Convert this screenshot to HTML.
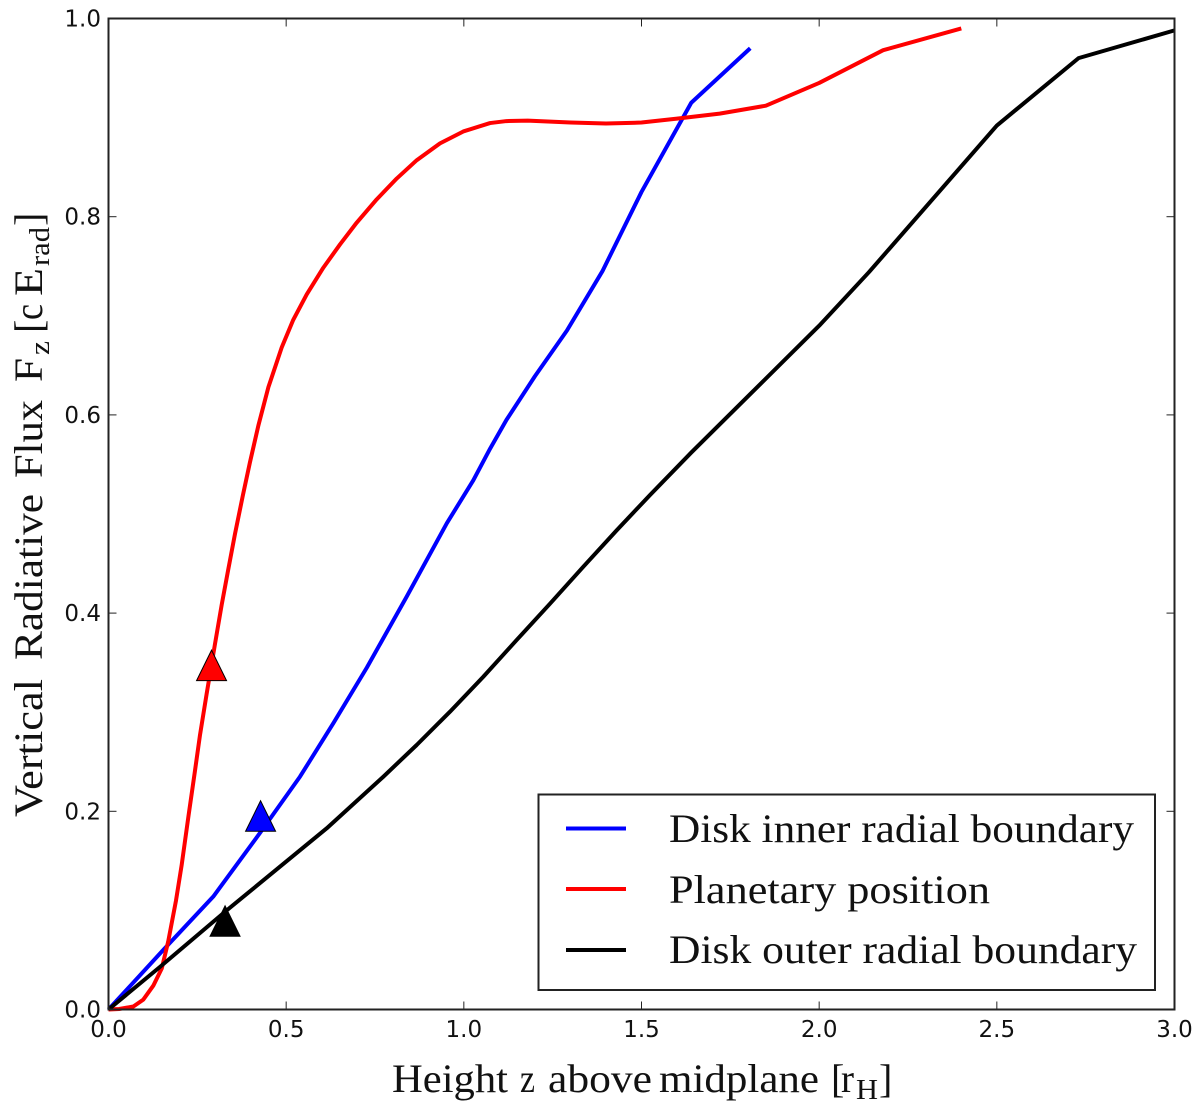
<!DOCTYPE html>
<html lang="en">
<head>
<meta charset="utf-8">
<title>Vertical Radiative Flux</title>
<style>
html,body{margin:0;padding:0;background:#fff;}
svg{display:block;}
.tick-label{font-family:"DejaVu Sans",sans-serif;font-size:23px;fill:#111;}
.math{font-family:"Liberation Serif",serif;fill:#111;}
</style>
</head>
<body>
<svg id="chart" width="1200" height="1108" viewBox="0 0 1200 1108" xmlns="http://www.w3.org/2000/svg">
  <rect x="0" y="0" width="1200" height="1108" fill="#fff"/>
  <g id="series"></g>
  <g id="markers"></g>
  <g id="ticks"></g>
  <rect x="108.5" y="18.5" width="1066" height="991" fill="none" stroke="#222" stroke-width="2"/>

  <g class="math" font-size="40">
    <text class="math" x="392" y="1092" textLength="116" lengthAdjust="spacingAndGlyphs">Height</text>
    <text class="math" x="520" y="1092" textLength="15" lengthAdjust="spacingAndGlyphs">z</text>
    <text class="math" x="548" y="1092" textLength="104" lengthAdjust="spacingAndGlyphs">above</text>
    <text class="math" x="659" y="1092" textLength="160" lengthAdjust="spacingAndGlyphs">midplane</text>
    <text class="math" x="831" y="1092">[</text>
    <text class="math" x="841" y="1092" textLength="13" lengthAdjust="spacingAndGlyphs">r</text>
    <text class="math" font-size="28" x="856" y="1099" textLength="22" lengthAdjust="spacingAndGlyphs">H</text>
    <text class="math" x="879" y="1092">]</text>
  </g>

  <g font-size="40" transform="translate(42,817) rotate(-90)">
    <text class="math" x="0" y="0" textLength="138" lengthAdjust="spacingAndGlyphs">Vertical</text>
    <text class="math" x="157" y="0" textLength="166" lengthAdjust="spacingAndGlyphs">Radiative</text>
    <text class="math" x="339" y="0" textLength="78" lengthAdjust="spacingAndGlyphs">Flux</text>
    <text class="math" x="435" y="0" textLength="24" lengthAdjust="spacingAndGlyphs">F</text>
    <text class="math" font-size="28" x="462" y="7" textLength="14" lengthAdjust="spacingAndGlyphs">z</text>
    <text class="math" x="484" y="0">[</text>
    <text class="math" x="497" y="0" textLength="16" lengthAdjust="spacingAndGlyphs">c</text>
    <text class="math" x="521" y="0" textLength="28" lengthAdjust="spacingAndGlyphs">E</text>
    <text class="math" font-size="28" x="551" y="7" textLength="39" lengthAdjust="spacingAndGlyphs">rad</text>
    <text class="math" x="591" y="0">]</text>
  </g>

  <g>
    <rect x="538.5" y="794.5" width="616.5" height="195.5" fill="#fff" stroke="#222" stroke-width="2"/>
    <line x1="566" x2="626" y1="828.5" y2="828.5" stroke="#0000ff" stroke-width="4"/>
    <text class="math" font-size="40" x="669" y="842" textLength="465" lengthAdjust="spacingAndGlyphs">Disk inner radial boundary</text>
    <line x1="566" x2="626" y1="889" y2="889" stroke="#ff0000" stroke-width="4"/>
    <text class="math" font-size="40" x="669" y="903" textLength="321" lengthAdjust="spacingAndGlyphs">Planetary position</text>
    <line x1="566" x2="626" y1="950" y2="950" stroke="#000" stroke-width="4"/>
    <text class="math" font-size="40" x="669" y="963" textLength="468" lengthAdjust="spacingAndGlyphs">Disk outer radial boundary</text>
  </g>
</svg>
<script>
var xTickValues = [0.0, 0.5, 1.0, 1.5, 2.0, 2.5, 3.0];
var yTickValues = [0.0, 0.2, 0.4, 0.6, 0.8, 1.0];

var innerZ = [0, 0.154, 0.295, 0.426, 0.539, 0.633, 0.727, 0.839, 0.952, 1.0266, 1.074, 1.12, 1.2, 1.29, 1.39, 1.5, 1.64, 1.806];
var innerF = [0, 0.06, 0.114, 0.178, 0.235, 0.289, 0.345, 0.4165, 0.4906, 0.534, 0.566, 0.595, 0.639, 0.685, 0.745, 0.825, 0.915, 0.97];

var planetZ = [0, 0.03, 0.07, 0.098, 0.126, 0.15, 0.168, 0.19, 0.206, 0.225, 0.243, 0.2575, 0.276, 0.3, 0.3186, 0.337, 0.356, 0.3777, 0.398, 0.4216, 0.45, 0.4874, 0.52, 0.5578, 0.6045, 0.6515, 0.6985, 0.7548, 0.8111, 0.8674, 0.9329, 0.9985, 1.0737, 1.12, 1.18, 1.3, 1.4, 1.5, 1.6, 1.72, 1.85, 2.0, 2.18, 2.4];
var planetF = [0, 0.0005, 0.003, 0.01, 0.024, 0.0415, 0.0686, 0.11, 0.146, 0.195, 0.24, 0.277, 0.318, 0.3695, 0.4085, 0.444, 0.48, 0.518, 0.552, 0.589, 0.628, 0.668, 0.696, 0.7215, 0.7485, 0.772, 0.794, 0.8175, 0.8385, 0.857, 0.874, 0.886, 0.8945, 0.8965, 0.897, 0.895, 0.894, 0.895, 0.899, 0.904, 0.912, 0.935, 0.968, 0.99];

var outerZ = [0, 0.145, 0.3326, 0.614, 0.7734, 0.8673, 0.961, 1.0548, 1.1488, 1.2425, 1.336, 1.43, 1.524, 1.64, 2.0, 2.14, 2.5, 2.73, 3.0];
var outerF = [0, 0.043, 0.1, 0.1828, 0.2349, 0.2669, 0.3005, 0.3358, 0.3729, 0.4095, 0.4467, 0.4835, 0.5192, 0.562, 0.69, 0.744, 0.892, 0.96, 0.988];

var markerZ = [0.428, 0.29, 0.328];
var markerF = [0.195, 0.347, 0.089];

var NS = 'http://www.w3.org/2000/svg';
var plotLeft = 108.5, plotRight = 1174.5, plotTop = 18.5, plotBottom = 1009.5;

function xScale(v) { return plotLeft + (v / 3) * (plotRight - plotLeft); }
function yScale(v) { return plotBottom - v * (plotBottom - plotTop); }

function make(tag, parent) {
  var el = document.createElementNS(NS, tag);
  parent.appendChild(el);
  return el;
}

function drawLine(zs, fs, color, name) {
  var pts = [];
  for (var i = 0; i < zs.length; i++) {
    pts.push(xScale(zs[i]).toFixed(2) + ',' + yScale(fs[i]).toFixed(2));
  }
  var el = make('polyline', document.getElementById('series'));
  
  
  el.setAttribute('points', pts.join(' '));
  el.setAttribute('fill', 'none');
  el.setAttribute('stroke', color);
  el.setAttribute('stroke-width', '4');
  el.setAttribute('stroke-linejoin', 'round');
}

function drawMarker(z, f, color, name) {
  var cx = xScale(z), cy = yScale(f);
  var el = make('polygon', document.getElementById('markers'));
  
  
  el.setAttribute('points', cx + ',' + (cy - 15.5) + ' ' + (cx - 15) + ',' + (cy + 15) + ' ' + (cx + 15) + ',' + (cy + 15));
  el.setAttribute('fill', color);
  el.setAttribute('stroke', '#000');
  el.setAttribute('stroke-width', '1');
}

function drawTickMark(x1, y1, x2, y2) {
  var el = make('line', document.getElementById('ticks'));
  
  
  el.setAttribute('x1', x1);
  el.setAttribute('y1', y1);
  el.setAttribute('x2', x2);
  el.setAttribute('y2', y2);
  el.setAttribute('stroke', '#222');
  el.setAttribute('stroke-width', '1');
}

function drawTickLabel(x, y, anchor, value, name) {
  var el = make('text', document.getElementById('ticks'));
  
  
  el.setAttribute('class', 'tick-label');
  el.setAttribute('x', x);
  el.setAttribute('y', y);
  el.setAttribute('text-anchor', anchor);
  el.textContent = value.toFixed(1);
}

drawLine(innerZ, innerF, '#0000ff', 'line-disk-inner-boundary');
drawLine(planetZ, planetF, '#ff0000', 'line-planetary-position');
drawLine(outerZ, outerF, '#000000', 'line-disk-outer-boundary');

drawMarker(markerZ[0], markerF[0], '#0000ff', 'marker-disk-inner-boundary');
drawMarker(markerZ[1], markerF[1], '#ff0000', 'marker-planetary-position');
drawMarker(markerZ[2], markerF[2], '#000000', 'marker-disk-outer-boundary');

xTickValues.forEach(function (v) {
  var x = xScale(v);
  drawTickMark(x, plotBottom, x, plotBottom - 8);
  drawTickMark(x, plotTop, x, plotTop + 8);
  drawTickLabel(x, 1037, 'middle', v, 'x-tick-label');
});
yTickValues.forEach(function (v) {
  var y = yScale(v);
  drawTickMark(plotLeft, y, plotLeft + 8, y);
  drawTickMark(plotRight, y, plotRight - 8, y);
  drawTickLabel(101, y + 8, 'end', v, 'y-tick-label');
});
</script>
</body>
</html>
